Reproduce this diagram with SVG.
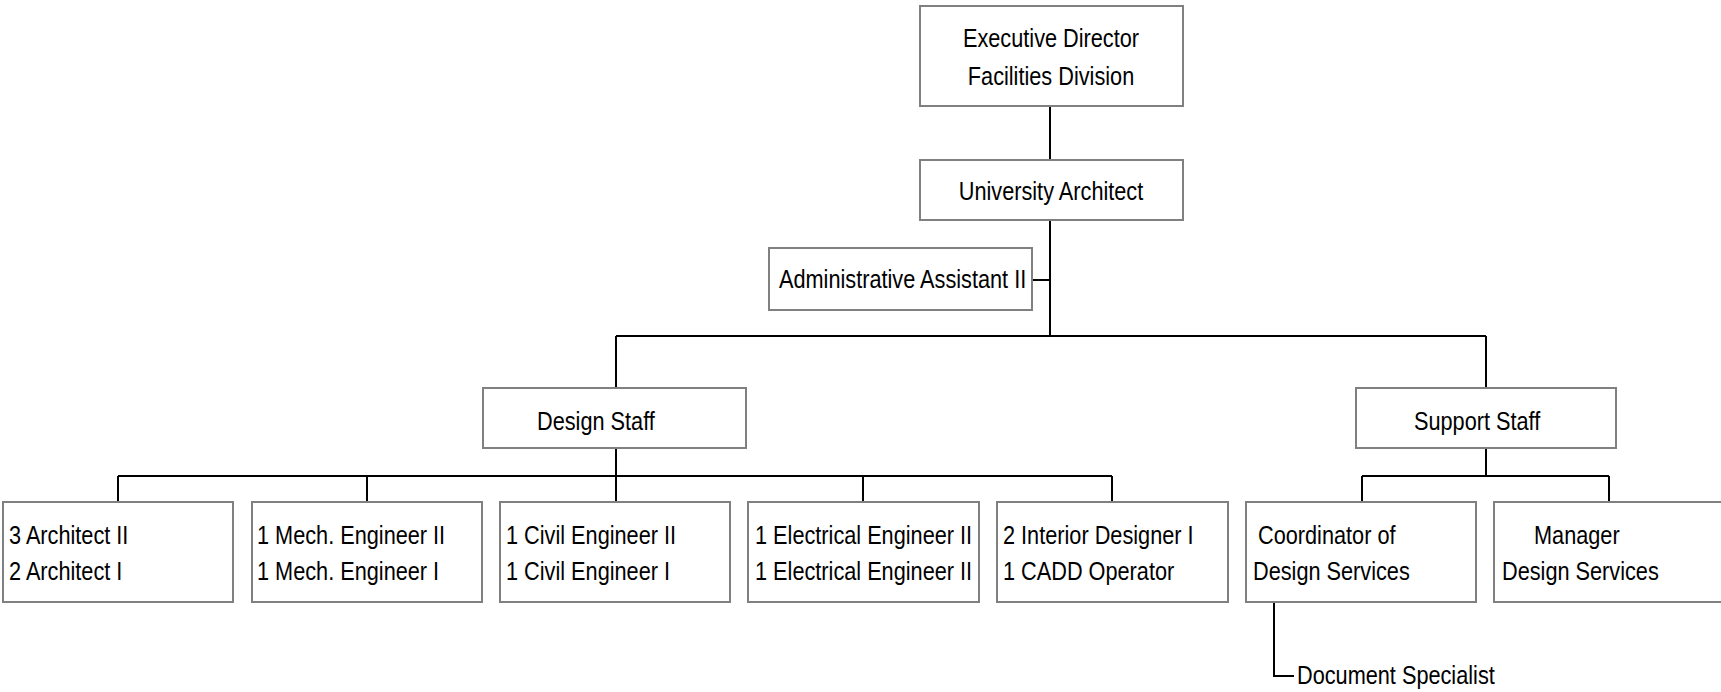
<svg xmlns="http://www.w3.org/2000/svg" width="1721" height="692" viewBox="0 0 1721 692">
<style>
.box{fill:#fff;stroke:#808080;stroke-width:2}
.t{font-family:"Liberation Sans",Arial,sans-serif;font-size:26px;fill:#000}
.c{text-anchor:middle}
.ln{fill:none;stroke:#000;stroke-width:2}
</style>
<rect width="1721" height="692" fill="#fff"/>
<g id="connectors">
<path class="ln" d="M1050 106V160M1050 220V336M1032 280H1050M616 336H1486M616 336V388M1486 336V388"/>
<path class="ln" d="M616 448V476M118 476H1112M118 476V502M367 476V502M616 476V502M863 476V502M1112 476V502"/>
<path class="ln" d="M1486 448V476M1362 476H1609M1362 476V502M1609 476V502"/>
<path class="ln" d="M1274 602V676H1294"/>
</g>
<g id="exec"><rect class="box" x="920" y="6" width="263" height="100"/><text class="t c" transform="translate(1051 47) scale(0.835 1)">Executive Director</text><text class="t c" transform="translate(1051 85) scale(0.835 1)">Facilities Division</text></g>
<g id="ua"><rect class="box" x="920" y="160" width="263" height="60"/><text class="t c" transform="translate(1051 200) scale(0.835 1)">University Architect</text></g>
<g id="admin"><rect class="box" x="769" y="248" width="263" height="62"/><text class="t" transform="translate(779 288) scale(0.835 1)">Administrative Assistant II</text></g>
<g id="design"><rect class="box" x="483" y="388" width="263" height="60"/><text class="t" transform="translate(537 430) scale(0.835 1)">Design Staff</text></g>
<g id="support"><rect class="box" x="1356" y="388" width="260" height="60"/><text class="t" transform="translate(1414 430) scale(0.835 1)">Support Staff</text></g>
<g id="arch"><rect class="box" x="3" y="502" width="230" height="100"/><text class="t" transform="translate(9 544) scale(0.835 1)">3 Architect II</text><text class="t" transform="translate(9 580) scale(0.835 1)">2 Architect I</text></g>
<g id="mech"><rect class="box" x="252" y="502" width="230" height="100"/><text class="t" transform="translate(257 544) scale(0.835 1)">1 Mech. Engineer II</text><text class="t" transform="translate(257 580) scale(0.835 1)">1 Mech. Engineer I</text></g>
<g id="civil"><rect class="box" x="500" y="502" width="230" height="100"/><text class="t" transform="translate(506 544) scale(0.835 1)">1 Civil Engineer II</text><text class="t" transform="translate(506 580) scale(0.835 1)">1 Civil Engineer I</text></g>
<g id="elec"><rect class="box" x="748" y="502" width="231" height="100"/><text class="t" transform="translate(755 544) scale(0.835 1)">1 Electrical Engineer II</text><text class="t" transform="translate(755 580) scale(0.835 1)">1 Electrical Engineer II</text></g>
<g id="interior"><rect class="box" x="997" y="502" width="231" height="100"/><text class="t" transform="translate(1003 544) scale(0.835 1)">2 Interior Designer I</text><text class="t" transform="translate(1003 580) scale(0.835 1)">1 CADD Operator</text></g>
<g id="coord"><rect class="box" x="1246" y="502" width="230" height="100"/><text class="t" transform="translate(1258 544) scale(0.835 1)">Coordinator of</text><text class="t" transform="translate(1253 580) scale(0.835 1)">Design Services</text></g>
<g id="manager"><rect class="box" x="1494" y="502" width="230" height="100"/><text class="t" transform="translate(1534 544) scale(0.835 1)">Manager</text><text class="t" transform="translate(1502 580) scale(0.835 1)">Design Services</text></g>
<g id="docspec"><text class="t" transform="translate(1297 684) scale(0.835 1)">Document Specialist</text></g>
</svg>
